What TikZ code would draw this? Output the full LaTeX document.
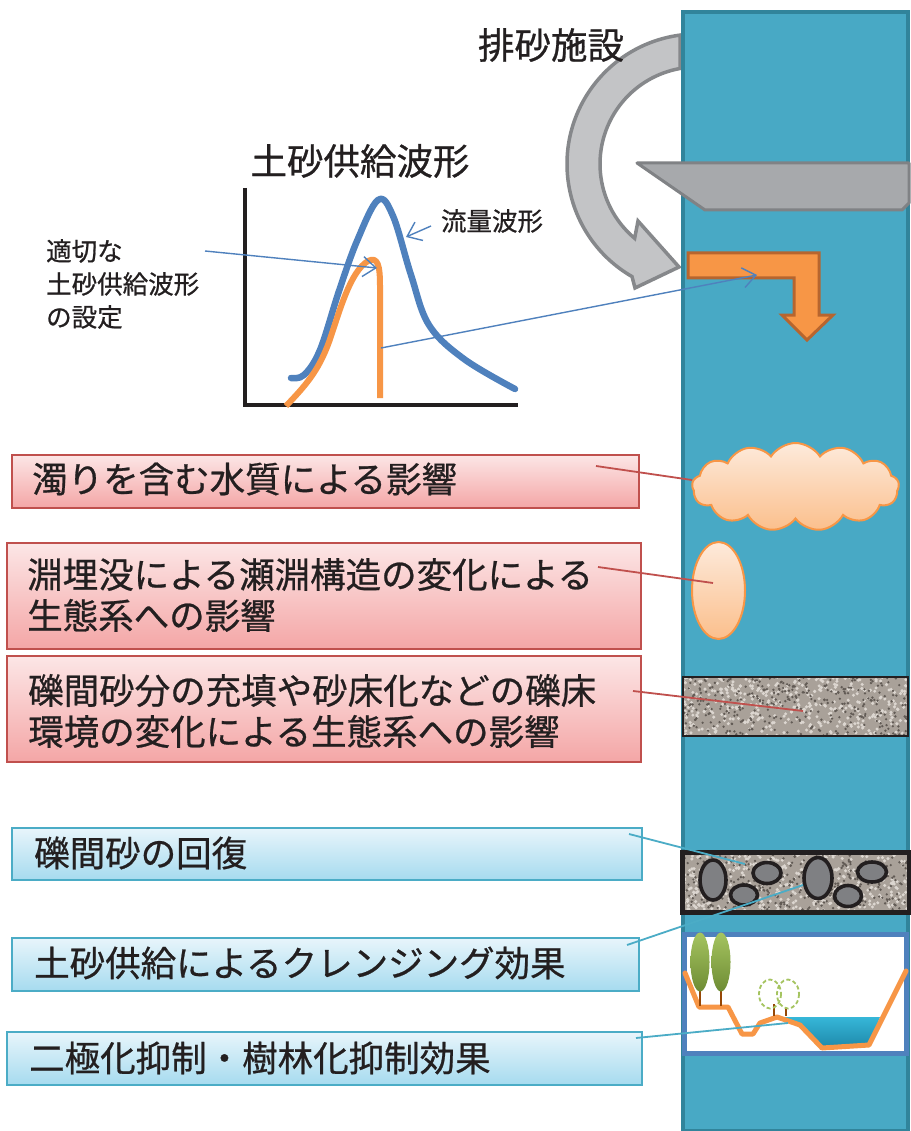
\documentclass[tikz,border=0pt]{standalone}
\usepackage{fontspec}
\setmainfont{Noto Sans CJK JP}[FakeBold=0.7]
\usetikzlibrary{arrows.meta,shapes.geometric,shapes.symbols,calc}

\definecolor{ink}{HTML}{231F20}
\definecolor{river}{HTML}{48A9C5}
\definecolor{riveredge}{HTML}{31849B}
\definecolor{archfill}{HTML}{C3C4C6}
\definecolor{archedge}{HTML}{86888B}
\definecolor{weirfill}{HTML}{A7A9AC}
\definecolor{weiredge}{HTML}{808285}
\definecolor{orangefill}{HTML}{F79646}
\definecolor{orangeedge}{HTML}{B7652E}
\definecolor{flowblue}{HTML}{4F81BD}
\definecolor{redtop}{HTML}{FCE6E6}
\definecolor{redbot}{HTML}{F4A6A6}
\definecolor{rededge}{HTML}{C0504D}
\definecolor{bluetop}{HTML}{E8F5FB}
\definecolor{bluebot}{HTML}{A6DBEF}
\definecolor{blueedge}{HTML}{4BACC6}
\definecolor{peachtop}{HTML}{FDEADB}
\definecolor{peachbot}{HTML}{FBBF8C}
\definecolor{sandbase}{HTML}{A9A199}
\definecolor{sanddark}{HTML}{625B55}
\definecolor{sandlight}{HTML}{DCD6D0}
\definecolor{stonefill}{HTML}{7F8083}
\definecolor{treetop}{HTML}{A5C460}
\definecolor{treebot}{HTML}{6E8C34}
\definecolor{trunk}{HTML}{974806}
\definecolor{watertop}{HTML}{36B7D8}
\definecolor{waterbot}{HTML}{1E88AA}
\definecolor{crossedge}{HTML}{4F81BD}

\newcommand\bigjp{\fontsize{35.5}{41}\selectfont}
\newcommand\midjp{\fontsize{25.5}{33}\selectfont}
\newcommand\titlejp{\fontsize{36.5}{42}\selectfont}

% speckled sand texture inside a rectangle: x1 y1 x2 y2 seed
\newcommand\sandfill[5]{%
  \begin{scope}
    \clip (#1,#2) rectangle (#3,#4);
    \fill[sandbase] (#1,#2) rectangle (#3,#4);
    \pgfmathsetseed{#5}
    \foreach \k in {1,...,420}{%
      \pgfmathsetmacro\px{#1+(#3-#1)*rnd}%
      \pgfmathsetmacro\py{#2+(#4-#2)*rnd}%
      \fill[sandlight] (\px,\py) circle[radius=1.7];}
    \foreach \k in {1,...,330}{%
      \pgfmathsetmacro\px{#1+(#3-#1)*rnd}%
      \pgfmathsetmacro\py{#2+(#4-#2)*rnd}%
      \fill[sanddark] (\px,\py) circle[radius=1.3];}
  \end{scope}}

\begin{document}
\begin{tikzpicture}[x=1pt,y=-1pt,
  lbl/.style={anchor=west,inner sep=0pt,text=ink,font=\bigjp},
  redbox/.style={draw=rededge,line width=1.8pt,top color=redtop,bottom color=redbot,
    anchor=north west,inner sep=0pt},
  bluebox/.style={draw=blueedge,line width=1.8pt,top color=bluetop,bottom color=bluebot,
    anchor=north west,inner sep=0pt},
  redlink/.style={draw=rededge,line width=1.8pt},
  bluelink/.style={draw=blueedge,line width=1.8pt},
  pointer/.style={draw=flowblue,line width=1.4pt,-{Straight Barb[length=13pt,width=20pt,line width=1.4pt]}},
  stone/.style={draw=ink,line width=3.6pt,fill=stonefill},
  ground/.style={draw=orangefill,line width=5pt,line join=round,line cap=round},
]
\useasboundingbox (0,0) rectangle (910,1131);
\fill[white] (0,0) rectangle (910,1131);

% ---------- bypass arrow around the dam ----------
\draw[draw=archedge,fill=archfill,line width=3.5pt,line join=miter]
  ($(697,164)+(262.5:130)$) arc[start angle=262.5,end angle=120,radius=130]
  -- (635,288) -- (679,267) -- (638,221)
  -- ($(697,164)+(130:97)$) arc[start angle=130,end angle=260,radius=97] -- cycle;

% ---------- river column ----------
\draw[fill=river,draw=riveredge,line width=3.5pt] (683,12) rectangle (908,1131);

% dam / weir
\draw[fill=weirfill,draw=weiredge,line width=3pt,line join=round]
  (637,163) -- (909,163) -- (909,203) -- (902,210) -- (705,210) -- cycle;

% sediment release arrow
\draw[fill=orangefill,draw=orangeedge,line width=3pt,line join=miter]
  (688,253) -- (819,253) -- (819,315) -- (833,315) -- (807,340) -- (782,315)
  -- (794,315) -- (794,278) -- (688,278) -- cycle;

\node[inner sep=0pt,text=ink,font=\titlejp] (bypass) at (551,45) {排砂施設};

% ---------- sediment supply waveform graph ----------
\node[inner sep=0pt,text=ink,font=\titlejp] (graphtitle) at (360,161) {土砂供給波形};
\draw[ink,line width=4pt] (245,188) -- (245,405) -- (518,405);
\draw[flowblue,line width=6.5pt,line cap=round,line join=round]
  plot[smooth,tension=0.6] coordinates {(291,378) (304,375) (320,350) (339,291) (357,241) (378,200) (393,216) (411,275) (429,325) (464,359) (515,389)};
\draw[orangefill,line width=6pt,line join=round]
  (286,406) .. controls (305,386) and (318,372) .. (329,342)
  .. controls (340,310) and (350,272) .. (368,261)
  .. controls (378,256) and (380,266) .. (380,286) -- (380,398);

\node[inner sep=0pt,text=ink,font=\midjp] (flowlbl) at (492,221) {流量波形};
\node[anchor=west,inner sep=0pt,text=ink,font=\midjp,align=left] (supplylbl) at (46,284) {適切な\\土砂供給波形\\の設定};

\coordinate (flowtail) at (431,226);
\coordinate (flowhead) at (406,237);
\coordinate (supplytail) at (205,251);
\coordinate (supplyhead) at (377,268);
\coordinate (releasetail) at (381,348);
\coordinate (releasehead) at (757,275);
\draw[pointer] (flowtail) -- (flowhead);
\draw[pointer] (supplytail) -- (supplyhead);

% ---------- impacts (red) ----------
\node[redbox,minimum width=627pt,minimum height=53pt] (rb1) at (11,454) {};
\node[redbox,minimum width=634pt,minimum height=106pt] (rb2) at (6,542) {};
\node[redbox,minimum width=634pt,minimum height=106pt] (rb3) at (6,655) {};
\node[lbl] (rt1) at (32,479) {濁りを含む水質による影響};
\node[lbl,align=left] (rt2) at (27,595) {淵埋没による瀬淵構造の変化による\\生態系への影響};
\node[lbl,align=left] (rt3) at (28,711) {礫間砂分の充填や砂床化などの礫床\\環境の変化による生態系への影響};

% ---------- benefits (blue) ----------
\node[bluebox,minimum width=630pt,minimum height=52pt] (bb1) at (11,827) {};
\node[bluebox,minimum width=627pt,minimum height=53pt] (bb2) at (11,937) {};
\node[bluebox,minimum width=635pt,minimum height=53pt] (bb3) at (6,1031) {};
\node[lbl] (bt1) at (34,853) {礫間砂の回復};
\node[lbl] (bt2) at (34,963) {土砂供給によるクレンジング効果};
\node[lbl] (bt3) at (29,1058) {二極化抑制・樹林化抑制効果};

% ---------- river-side symbols ----------
\node[cloud,cloud puffs=13,cloud puff arc=115,aspect=2.4,draw=orangefill,line width=2pt,
  top color=peachtop,bottom color=peachbot,minimum width=207pt,minimum height=88pt,inner sep=0pt]
  (turbid) at (795.5,487) {};
\node[ellipse,draw=orangefill,line width=2pt,top color=peachtop,bottom color=peachbot,
  minimum width=53pt,minimum height=97pt,inner sep=0pt] (pool) at (718.5,590.5) {};

% fine sediment layer
\sandfill{683}{677}{908}{736}{11}
\draw[ink,line width=2.2pt] (683,677) rectangle (908,736);
\coordinate (finebed) at (803,711);

% gravel bed with stones
\sandfill{682}{852}{909}{912}{23}
\draw[ink,line width=5pt] (682,852) rectangle (909,912);
\draw[stone] (713,880) circle[x radius=13,y radius=20];
\draw[stone] (767,873) circle[x radius=14,y radius=10.5];
\draw[stone] (744,895) circle[x radius=13.5,y radius=10];
\draw[stone] (818,878) circle[x radius=14,y radius=20.5];
\draw[stone] (872,872) circle[x radius=14.5,y radius=10];
\draw[stone] (848,896) circle[x radius=13.5,y radius=10.5];

% river cross-section
\draw[draw=crossedge,line width=5pt,fill=white] (684,934) rectangle (906,1053);
\shade[top color=watertop,bottom color=waterbot]
  (779,1017) -- (880,1017) -- (869,1045) -- (822,1048) -- (800,1025) -- cycle;
\draw[ground] (685,973) -- (699,1007) -- (728,1007) -- (742,1034) -- (753,1034)
  -- (760,1023) -- (777,1017) -- (800,1025) -- (822,1048) -- (869,1045) -- (906,971);
\draw[trunk,line width=2pt] (700,988) -- (700,1006);
\draw[trunk,line width=2pt] (721,988) -- (721,1006);
\shade[top color=treetop,bottom color=treebot] (700,962) circle[x radius=9.5,y radius=29.5];
\shade[top color=treetop,bottom color=treebot] (721,962) circle[x radius=9.5,y radius=29.5];
\draw[trunk,line width=1.5pt] (774,1004) -- (774,1016);
\draw[trunk,line width=1.5pt] (786,1008) -- (786,1016);
\draw[treetop,line width=1.8pt,dashed,dash pattern=on 4pt off 2.5pt] (770,994) circle[x radius=11,y radius=14.5];
\draw[treetop,line width=1.8pt,dashed,dash pattern=on 4pt off 2.5pt] (788,994) circle[x radius=11,y radius=14.5];

% ---------- connectors ----------
\coordinate (r1a) at (596,466);  \coordinate (r1b) at (692,480);
\coordinate (r2a) at (598,567);  \coordinate (r2b) at (713,583);
\coordinate (r3a) at (633,691);
\coordinate (b1a) at (629,834);  \coordinate (b1b) at (745,864);
\coordinate (b2a) at (627,945);  \coordinate (b2b) at (803,885);
\coordinate (b3a) at (636,1038); \coordinate (b3b) at (788,1023);
\draw[redlink] (r1a) -- (r1b);
\draw[redlink] (r2a) -- (r2b);
\draw[redlink] (r3a) -- (finebed);
\draw[bluelink] (b1a) -- (b1b);
\draw[bluelink] (b2a) -- (b2b);
\draw[bluelink] (b3a) -- (b3b);

\draw[pointer] (releasetail) -- (releasehead);
\end{tikzpicture}
\end{document}
